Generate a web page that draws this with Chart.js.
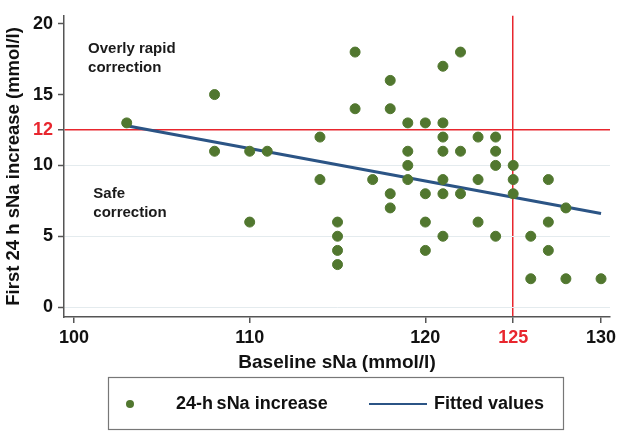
<!DOCTYPE html>
<html>
<head>
<meta charset="utf-8">
<script src="https://cdn.jsdelivr.net/npm/chart.js@4.4.1/dist/chart.umd.min.js"></script>
<style>
  html, body { margin: 0; padding: 0; background: #ffffff; }
  #wrap { width: 624px; height: 437px; position: relative; }
</style>
</head>
<body>
<div id="wrap"><canvas id="c" width="624" height="437"></canvas></div>
<script>
// ---- Data ----
const baselineSNa = [103,108,108,110,110,111,114,114,115,115,115,115,116,116,117,118,118,118,118,
  119,119,119,119,120,120,120,120,121,121,121,121,121,121,121,122,122,122,123,123,123,
  124,124,124,124,125,125,125,126,126,127,127,127,128,128,130];
const increase24h = [13,15,11,11,6,11,12,9,6,5,4,3,18,14,9,16,14,8,7,
  13,11,10,9,13,8,6,4,17,13,12,11,9,8,5,18,11,8,12,9,6,
  12,11,10,5,10,9,8,5,2,9,6,4,7,2,2];
const fittedX = [103, 130];
const fittedY = [12.8, 6.6];
const xTickValues = [100, 110, 120, 125, 130];
const xTickLabels = ['100', '110', '120', '125', '130'];
const yTickValues = [0, 5, 10, 12.5, 15, 20];
const yTickLabels = ['0', '5', '10', '12', '15', '20'];
const thresholdX = 125;   // vertical reference line
const thresholdY = 12.5;  // horizontal reference line (labelled 12)
const seriesNames = ['24-h\u2009sNa increase', 'Fitted values'];
const regionLabels = [
  { lines: ['Overly rapid', 'correction'], x: 100.8, y: 18.2 },
  { lines: ['Safe', 'correction'], x: 101.1, y: 8.0 }
];

// ---- Styles ----
const GREEN = '#51772f';
const BLUE = '#2b5485';
const RED = '#e8262e';
const DARK = '#111111';
const AXIS = '#555555';
const FAINT = '#e4ebee';
const FONT = "'Liberation Sans', Arial, sans-serif";

const scatterPts = baselineSNa.map((x, i) => ({ x: x, y: increase24h[i] }));
const fitPts = fittedX.map((x, i) => ({ x: x, y: fittedY[i] }));

const overlayPlugin = {
  id: 'overlay',
  afterDraw(chart) {
    const ctx = chart.ctx;
    const xs = chart.scales.x, ys = chart.scales.y;
    ctx.save();
    // region annotations
    ctx.fillStyle = '#1a1a1a';
    ctx.font = 'bold 15px ' + FONT;
    ctx.textAlign = 'left';
    ctx.textBaseline = 'middle';
    regionLabels.forEach(r => {
      const px = xs.getPixelForValue(r.x);
      const py = ys.getPixelForValue(r.y);
      r.lines.forEach((t, k) => ctx.fillText(t, px, py + k * 19));
    });
    // legend box
    const bx = 108, by = 377, bw = 455, bh = 52;
    ctx.strokeStyle = '#777777';
    ctx.lineWidth = 1.2;
    ctx.strokeRect(bx + 0.5, by + 0.5, bw, bh);
    const cy = by + bh / 2 + 1;
    ctx.fillStyle = GREEN;
    ctx.beginPath();
    ctx.arc(130, cy, 4, 0, Math.PI * 2);
    ctx.fill();
    ctx.fillStyle = DARK;
    ctx.font = 'bold 18px ' + FONT;
    ctx.fillText(chart.data.datasets[0].label, 176, cy);
    ctx.strokeStyle = BLUE;
    ctx.lineWidth = 2;
    ctx.beginPath();
    ctx.moveTo(369, cy);
    ctx.lineTo(427, cy);
    ctx.stroke();
    ctx.fillText(chart.data.datasets[1].label, 434, cy);
    ctx.restore();
  }
};

new Chart(document.getElementById('c'), {
  type: 'scatter',
  data: {
    datasets: [
      {
        label: seriesNames[0],
        data: scatterPts,
        backgroundColor: GREEN,
        borderColor: GREEN,
        pointRadius: 5,
        pointHoverRadius: 5,
        order: 1
      },
      {
        type: 'line',
        label: seriesNames[1],
        data: fitPts,
        borderColor: BLUE,
        borderWidth: 3,
        pointRadius: 0,
        fill: false,
        order: 2
      }
    ]
  },
  plugins: [overlayPlugin],
  options: {
    responsive: false,
    animation: false,
    events: [],
    layout: { padding: { top: 13, right: 14, left: 0, bottom: 60 } },
    plugins: { legend: { display: false }, tooltip: { enabled: false } },
    scales: {
      x: {
        type: 'linear',
        min: 99.43,
        max: 130.51,
        afterBuildTicks: s => { s.ticks = xTickValues.map(v => ({ value: v })); },
        afterFit: s => { s.height = 60; },
        ticks: {
          autoSkip: false,
          maxRotation: 0,
          padding: 4,
          font: { family: FONT, size: 18, weight: 'bold' },
          color: c => (c.tick && c.tick.value === thresholdX ? RED : DARK),
          callback: (v) => { const i = xTickValues.indexOf(v); return i >= 0 ? xTickLabels[i] : ''; }
        },
        grid: {
          drawOnChartArea: true,
          color: c => (c.tick && c.tick.value === thresholdX ? RED : 'rgba(0,0,0,0)'),
          lineWidth: 1.5,
          tickColor: AXIS,
          tickLength: 6,
          tickWidth: 1.5
        },
        border: { display: true, color: AXIS, width: 1.5 },
        title: {
          display: true,
          text: 'Baseline sNa (mmol/l)',
          color: DARK,
          font: { family: FONT, size: 19, weight: 'bold' },
          padding: { top: 0, bottom: 3 }
        }
      },
      y: {
        type: 'linear',
        min: -0.7,
        max: 20.56,
        afterBuildTicks: s => { s.ticks = yTickValues.map(v => ({ value: v })); },
        afterFit: s => { s.width = 64; },
        ticks: {
          autoSkip: false,
          padding: 5,
          font: { family: FONT, size: 18, weight: 'bold' },
          color: c => (c.tick && c.tick.value === thresholdY ? RED : DARK),
          callback: (v) => { const i = yTickValues.indexOf(v); return i >= 0 ? yTickLabels[i] : ''; }
        },
        grid: {
          drawOnChartArea: true,
          color: c => {
            if (!c.tick) return 'rgba(0,0,0,0)';
            if (c.tick.value === thresholdY) return RED;
            return c.tick.value <= 10 ? FAINT : 'rgba(0,0,0,0)';
          },
          lineWidth: c => (c.tick && c.tick.value === thresholdY ? 1.5 : 1),
          tickColor: AXIS,
          tickLength: 6,
          tickWidth: 1.5
        },
        border: { display: true, color: AXIS, width: 1.5 },
        title: {
          display: true,
          text: 'First 24 h sNa increase (mmol/l)',
          color: DARK,
          font: { family: FONT, size: 18.5, weight: 'bold' },
          padding: { top: 3, bottom: 0 }
        }
      }
    }
  }
});
</script>
</body>
</html>
